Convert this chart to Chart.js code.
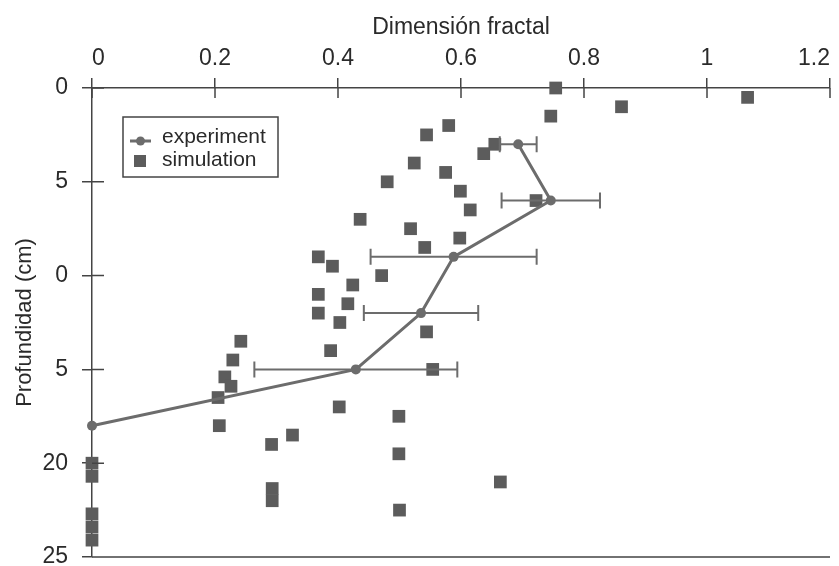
<!DOCTYPE html>
<html>
<head>
<meta charset="utf-8">
<script src="https://cdn.jsdelivr.net/npm/chart.js@4.4.1/dist/chart.umd.min.js"></script>
<style>
  html, body { margin: 0; padding: 0; background: #fff; }
  #wrap { width: 839px; height: 566px; position: relative; }
</style>
</head>
<body>
<div id="wrap"><canvas id="fractalChart"></canvas></div>
<script>
// ========== Data ==========
const xTickLabels = ['0', '0.2', '0.4', '0.6', '0.8', '1', '1.2'];
// depth labels as printed at 0,5,10,15,20,25 (the scan lost the leading "1" of 10 and 15)
const yTickLabels = ['0', '5', '0', '5', '20', '25'];

const expDepth = [3, 6, 9, 12, 15, 18];
const expFd    = [0.693, 0.746, 0.588, 0.535, 0.429, 0];
const expErr   = [0.03, 0.08, 0.135, 0.093, 0.165, 0];

const simDepth = [0, 0.5, 1, 1.5, 2, 2.5, 3, 3.5, 4, 4.5, 5, 5.5, 6, 6.5, 7, 7.5, 8, 8.5,
  9, 9.5, 10, 10.5, 11, 11.5, 12, 12.5, 13, 13.5, 14, 14.5, 15, 15.4, 15.9, 16.5, 17, 17.5,
  18, 18.5, 19, 19.5, 20, 20.7, 21, 21.35, 22, 22.5, 22.7, 23.4, 24.1];
const simFd = [0.754, 1.066, 0.861, 0.746, 0.580, 0.544, 0.655, 0.637, 0.524, 0.575, 0.480, 0.599, 0.722, 0.615, 0.436, 0.518, 0.598, 0.541,
  0.368, 0.391, 0.471, 0.424, 0.368, 0.416, 0.368, 0.403, 0.544, 0.242, 0.388, 0.229, 0.554, 0.216, 0.226, 0.205, 0.402, 0.499,
  0.207, 0.326, 0.292, 0.499, 0, 0, 0.664, 0.293, 0.293, 0.500, 0, 0, 0];

const INK = '#444444';
const TXT = '#2a2a2a';
const SQ = '#5c5c5c';
const LN = '#6c6c6c';

// ========== Plugins ==========
const innerTicks = {
  id: 'innerTicks',
  afterDraw(chart) {
    const { ctx, chartArea: a, scales: { x, y } } = chart;
    ctx.save();
    ctx.strokeStyle = INK;
    ctx.lineWidth = 1.5;
    ctx.beginPath();
    x.ticks.forEach(t => {
      const px = x.getPixelForValue(t.value);
      ctx.moveTo(px, a.top); ctx.lineTo(px, a.top + 10);
    });
    y.ticks.forEach(t => {
      const py = y.getPixelForValue(t.value);
      ctx.moveTo(a.left, py); ctx.lineTo(a.left + 12, py);
    });
    ctx.moveTo(a.left, a.bottom); ctx.lineTo(a.right, a.bottom);
    ctx.stroke();
    ctx.restore();
  }
};

const errorBars = {
  id: 'errorBars',
  afterDatasetsDraw(chart) {
    const { ctx, scales: { x, y } } = chart;
    ctx.save();
    ctx.strokeStyle = LN;
    ctx.lineWidth = 2;
    expDepth.forEach((d, i) => {
      if (!expErr[i]) return;
      const py = y.getPixelForValue(d);
      const x1 = x.getPixelForValue(expFd[i] - expErr[i]);
      const x2 = x.getPixelForValue(expFd[i] + expErr[i]);
      ctx.beginPath();
      ctx.moveTo(x1, py); ctx.lineTo(x2, py);
      ctx.moveTo(x1, py - 8); ctx.lineTo(x1, py + 8);
      ctx.moveTo(x2, py - 8); ctx.lineTo(x2, py + 8);
      ctx.stroke();
    });
    ctx.restore();
  }
};

const boxLegend = {
  id: 'boxLegend',
  afterDraw(chart) {
    const { ctx, chartArea: a } = chart;
    const bx = a.left + 31, by = a.top + 29, bw = 155, bh = 60;
    ctx.save();
    ctx.fillStyle = '#fff';
    ctx.fillRect(bx, by, bw, bh);
    ctx.strokeStyle = INK;
    ctx.lineWidth = 1.5;
    ctx.strokeRect(bx, by, bw, bh);
    // experiment
    ctx.strokeStyle = LN; ctx.lineWidth = 3;
    ctx.beginPath(); ctx.moveTo(bx + 7, by + 24); ctx.lineTo(bx + 28, by + 24); ctx.stroke();
    ctx.fillStyle = LN;
    ctx.beginPath(); ctx.arc(bx + 17.5, by + 24, 4.5, 0, Math.PI * 2); ctx.fill();
    // simulation
    ctx.fillStyle = SQ;
    ctx.fillRect(bx + 11, by + 38, 12, 12);
    ctx.fillStyle = TXT;
    ctx.font = '21px "Liberation Sans", Arial, sans-serif';
    ctx.textBaseline = 'middle';
    ctx.fillText('experiment', bx + 39, by + 20);
    ctx.fillText('simulation', bx + 39, by + 43);
    ctx.restore();
  }
};

// ========== Chart ==========
const font = (size) => ({ size, family: '"Liberation Sans", Arial, sans-serif' });

new Chart(document.getElementById('fractalChart'), {
  type: 'scatter',
  data: {
    datasets: [
      {
        label: 'experiment',
        data: expDepth.map((d, i) => ({ x: expFd[i], y: d })),
        showLine: true, borderColor: LN, borderWidth: 3, clip: false,
        pointStyle: 'circle', pointRadius: 5, pointBackgroundColor: LN, pointBorderWidth: 0
      },
      {
        label: 'simulation',
        data: simDepth.map((d, i) => ({ x: simFd[i], y: d })),
        clip: false,
        pointStyle: 'rect', pointRadius: 9, pointBackgroundColor: SQ, pointBorderWidth: 0
      }
    ]
  },
  options: {
    responsive: true, maintainAspectRatio: false, animation: false,
    layout: { padding: { top: 0, left: 0, right: 0, bottom: 4 } },
    plugins: { legend: { display: false }, tooltip: { enabled: false } },
    scales: {
      x: {
        type: 'linear', position: 'top', min: 0, max: 1.2,
        ticks: { stepSize: 0.2, align: 'inner', padding: 6, color: TXT, font: font(23),
          callback: (v, i) => xTickLabels[i] },
        grid: { drawOnChartArea: false, tickLength: 10, color: INK, lineWidth: 1.5 },
        border: { color: INK, width: 1.5 },
        title: { display: true, text: 'Dimensión fractal', color: TXT, font: font(23), padding: { top: 14, bottom: 0 } },
        afterFit(s) { s.height = 88; s.paddingLeft = 0; s.paddingRight = 0; }
      },
      y: {
        type: 'linear', position: 'left', reverse: true, min: 0, max: 25,
        ticks: { stepSize: 5, padding: 14, color: TXT, font: font(23),
          callback: (v) => yTickLabels[Math.round(v / 5)] },
        grid: { drawOnChartArea: false, tickLength: 10, color: INK, lineWidth: 1.5 },
        border: { color: INK, width: 1.5 },
        title: { display: true, text: 'Profundidad (cm)', color: TXT, font: font(22), padding: { top: 12, bottom: 0 } },
        afterFit(s) { s.width = 92; s.paddingTop = 0; s.paddingBottom = 0; }
      }
    }
  },
  plugins: [innerTicks, errorBars, boxLegend]
});
</script>
</body>
</html>
